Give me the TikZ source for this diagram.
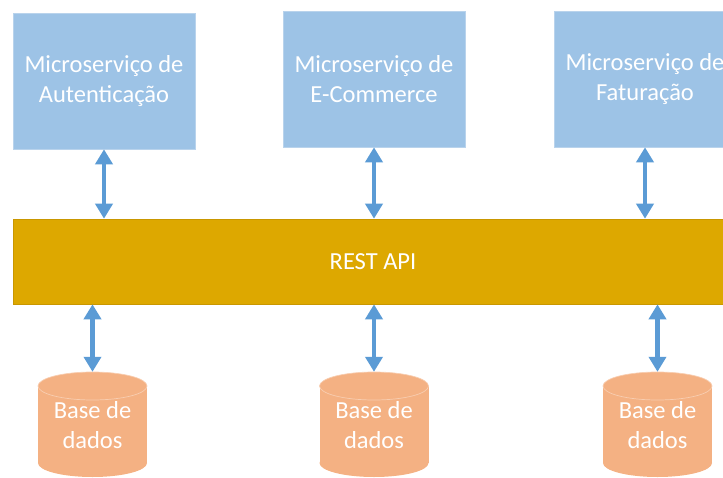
\documentclass[tikz,border=0pt]{standalone}
\usepackage{fontspec}
\setmainfont{Carlito}
\usetikzlibrary{arrows.meta}

\definecolor{boxblue}{HTML}{9DC3E6}
\definecolor{boxedge}{HTML}{B9D3EC}
\definecolor{apigold}{HTML}{DDA800}
\definecolor{apiedge}{HTML}{C99700}
\definecolor{dbfill}{HTML}{F4B183}
\definecolor{dbrim}{HTML}{F8CDB0}
\definecolor{linkblue}{HTML}{5B9BD5}

\begin{document}
\begin{tikzpicture}[x=1pt,y=1pt,yscale=-1,
    service/.style={fill=boxblue, draw=boxedge, line width=0.6pt, minimum width=182pt, minimum height=136pt,
      align=center, text=white, font=\fontsize{24.5}{30}\selectfont},
    apibar/.style={fill=apigold, draw=apiedge, line width=0.6pt, minimum width=720pt, minimum height=85pt,
      text=white, font=\fontsize{24.5}{30}\selectfont},
    dbtext/.style={minimum width=109pt, minimum height=106pt, inner sep=0pt,
      align=center, text=white, font=\fontsize{24.5}{30}\selectfont},
    link/.style={draw=linkblue, line width=4.5pt, {Triangle[width=17pt,length=15pt]}-{Triangle[width=17pt,length=15pt]}}]
    \useasboundingbox (0,0) rectangle (723,477);

    % microservicos
    \node[service] (auth) at (104,81) {Microserviço de\\Autenticação};
    \node[service] (shop) at (374,79) {Microserviço de\\E-Commerce};
    \node[service] (bill) at (645,79) {Microserviço de\\Faturação};

    % api
    \node[apibar] (api) at (373,261.5) {REST API};

    % bases de dados
    \foreach \cx/\name in {92.5/db1, 374/db2, 657.5/db3}{
      \fill[dbfill] (\cx-54.5,386) rectangle (\cx+54.5,463);
      \fill[dbfill] (\cx,463) circle [x radius=54.5, y radius=14];
      \fill[dbfill] (\cx,386) circle [x radius=54.5, y radius=14];
      \draw[dbrim, line width=0.7pt] (\cx,386) circle [x radius=54.5, y radius=14];
      \node[dbtext] (\name) at (\cx,425) {Base de\\dados};
    }

    % ligacoes
    \draw[link] (auth.south) -- (auth.south |- api.north);
    \draw[link] (shop.south) -- (shop.south |- api.north);
    \draw[link] (bill.south) -- (bill.south |- api.north);
    \draw[link] (api.south -| db1.north) -- (db1.north);
    \draw[link] (api.south -| db2.north) -- (db2.north);
    \draw[link] (api.south -| db3.north) -- (db3.north);

\end{tikzpicture}
\end{document}
